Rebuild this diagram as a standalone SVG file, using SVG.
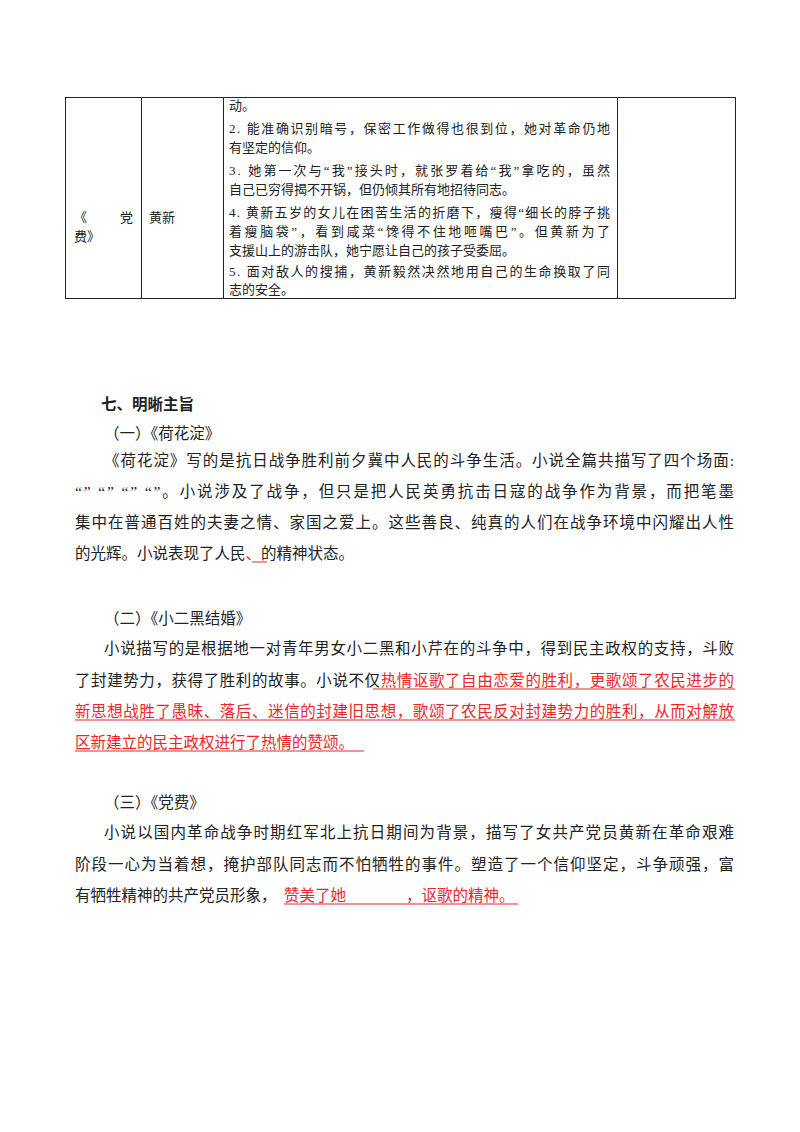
<svg xmlns="http://www.w3.org/2000/svg" width="800" height="1132" viewBox="0 0 800 1132">
<style>
text{font-family:"Liberation Serif","Noto Sans CJK SC",serif;fill:#222}
.t{font-size:13px}
.b{font-size:15.5px}
.h{font-size:15.5px;font-weight:bold;font-family:"Noto Sans CJK SC",sans-serif}
.r{fill:#e8262b}
.u{stroke:#e8262b;stroke-width:1}
</style>
<rect width="800" height="1132" fill="#fff"/>
<g id="table" fill="none" stroke="#222" stroke-width="1">
<rect x="65.5" y="97.5" width="670" height="201"/>
<line x1="141.5" y1="97" x2="141.5" y2="299"/>
<line x1="223.5" y1="97" x2="223.5" y2="299"/>
<line x1="617.5" y1="97" x2="617.5" y2="299"/>
</g>
<g id="cell-title">
<text class="t" x="74" y="222">《</text><text class="t" x="120" y="222">党</text>
<text class="t" x="74" y="241">费》</text>
</g>
<g id="cell-name"><text class="t" x="149" y="222">黄新</text></g>
<g id="cell-content">
<text class="t" x="229" y="110">动。</text>
<text class="t" x="229" y="133" textLength="381" lengthAdjust="spacing">2. 能准确识别暗号，保密工作做得也很到位，她对革命仍地</text>
<text class="t" x="229" y="152">有坚定的信仰。</text>
<text class="t" x="229" y="175" textLength="381" lengthAdjust="spacing">3. 她第一次与“我”接头时，就张罗着给“我”拿吃的，虽然</text>
<text class="t" x="229" y="194">自己已穷得揭不开锅，但仍倾其所有地招待同志。</text>
<text class="t" x="229" y="217" textLength="381" lengthAdjust="spacing">4. 黄新五岁的女儿在困苦生活的折磨下，瘦得“细长的脖子挑</text>
<text class="t" x="229" y="236" textLength="381" lengthAdjust="spacing">着瘦脑袋”，看到咸菜“馋得不住地咂嘴巴”。但黄新为了</text>
<text class="t" x="229" y="255">支援山上的游击队，她宁愿让自己的孩子受委屈。</text>
<text class="t" x="229" y="276" textLength="381" lengthAdjust="spacing">5. 面对敌人的搜捕，黄新毅然决然地用自己的生命换取了同</text>
<text class="t" x="229" y="294">志的安全。</text>
</g>
<g id="section7">
<text class="h" x="101" y="410">七、明晰主旨</text>
<text class="b" x="104" y="439">（一）《荷花淀》</text>
<text class="b" x="104" y="466" textLength="630" lengthAdjust="spacing">《荷花淀》写的是抗日战争胜利前夕冀中人民的斗争生活。小说全篇共描写了四个场面:</text>
<text class="b" x="75" y="497" textLength="659" lengthAdjust="spacing">“” “” “” “”。小说涉及了战争，但只是把人民英勇抗击日寇的战争作为背景，而把笔墨</text>
<text class="b" x="75" y="528" textLength="659" lengthAdjust="spacing">集中在普通百姓的夫妻之情、家国之爱上。这些善良、纯真的人们在战争环境中闪耀出人性</text>
<text class="b" x="75" y="559">的光辉。小说表现了人民<tspan class="r">、</tspan>的精神状态。</text>
<line class="u" x1="252" y1="562" x2="267" y2="562"/>

<text class="b" x="104" y="624">（二）《小二黑结婚》</text>
<text class="b" x="104" y="654" textLength="630" lengthAdjust="spacing">小说描写的是根据地一对青年男女小二黑和小芹在的斗争中，得到民主政权的支持，斗败</text>
<text class="b" x="75" y="686" textLength="659" lengthAdjust="spacing">了封建势力，获得了胜利的故事。小说不仅<tspan class="r">热情讴歌了自由恋爱的胜利，更歌颂了农民进步的</tspan></text>
<line class="u" x1="373" y1="689" x2="735" y2="689"/>
<text class="b r" x="75" y="717" textLength="659" lengthAdjust="spacing">新思想战胜了愚昧、落后、迷信的封建旧思想，歌颂了农民反对封建势力的胜利，从而对解放</text>
<line class="u" x1="75" y1="720" x2="735" y2="720"/>
<text class="b r" x="75" y="748">区新建立的民主政权进行了热情的赞颂。</text>
<line class="u" x1="75" y1="751" x2="364" y2="751"/>

<text class="b" x="104" y="808">（三）《党费》</text>
<text class="b" x="104" y="838" textLength="630" lengthAdjust="spacing">小说以国内革命战争时期红军北上抗日期间为背景，描写了女共产党员黄新在革命艰难</text>
<text class="b" x="75" y="870" textLength="659" lengthAdjust="spacing">阶段一心为当着想，掩护部队同志而不怕牺牲的事件。塑造了一个信仰坚定，斗争顽强，富</text>
<text class="b" x="75" y="901">有牺牲精神的共产党员形象，</text>
<text class="b r" x="284" y="901">赞美了她</text>
<text class="b r" x="406" y="901">，讴歌的精神。</text>
<line class="u" x1="284" y1="904" x2="518" y2="904"/>
</g>
</svg>
